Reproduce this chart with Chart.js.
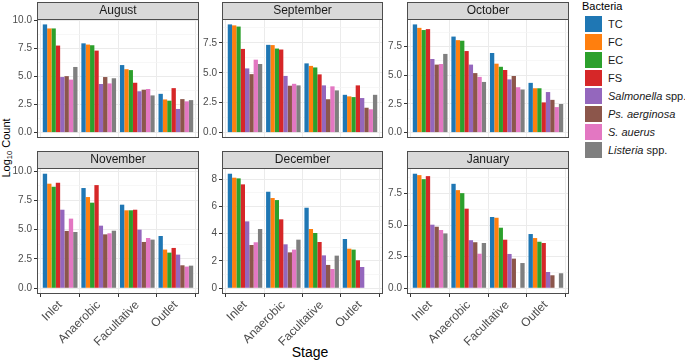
<!DOCTYPE html>
<html>
<head>
<meta charset="utf-8">
<script src="https://cdn.jsdelivr.net/npm/chart.js@4/dist/chart.umd.min.js"></script>
<style>
  html, body { margin:0; padding:0; background:#fff; }
  body { width:685px; height:361px; position:relative; overflow:hidden; font-family:"Liberation Sans", Arial, sans-serif; }
  canvas { position:absolute; }
  .ytitle { position:absolute; left:7px; top:148px; transform:translate(-50%,-50%) rotate(-90deg); font-size:11px; color:#000; white-space:nowrap; }
  .ytitle sub { font-size:7.5px; vertical-align:-2px; }
  .xtitle { position:absolute; left:310px; top:352px; transform:translate(-50%,-50%); font-size:14px; color:#000; white-space:nowrap; }
  .legtitle { position:absolute; left:582px; top:0px; font-size:11px; color:#000; }
  .key { position:absolute; left:585px; width:17px; height:16px; }
  .klab { position:absolute; left:608px; font-size:11px; color:#1a1a1a; white-space:nowrap; line-height:16px; }
</style>
</head>
<body>
<div class="ytitle">Log<sub>10</sub> Count</div>
<div class="xtitle">Stage</div>
<div class="legtitle">Bacteria</div>
<div id="legend"></div>
<script>
// ---------- data ----------
const stages = ['Inlet', 'Anaerobic', 'Facultative', 'Outlet'];
const bacteria = ['TC', 'FC', 'EC', 'FS', 'Salmonella spp.', 'Ps. aerginosa', 'S. auerus', 'Listeria spp.'];
const bacteriaItalic = ['', '', '', '', 'Salmonella', 'Ps. aerginosa', 'S. auerus', 'Listeria'];
const colors = ['#1f77b4', '#ff7f0e', '#2ca02c', '#d62728', '#9467bd', '#8c564b', '#e377c2', '#7f7f7f'];
const months = ['August', 'September', 'October', 'November', 'December', 'January'];

// rows = stages, columns = bacteria (TC, FC, EC, FS, Sal, Ps, S.a, List)
const august = [
  [9.66, 9.30, 9.30, 7.77, 4.96, 5.04, 4.73, 5.86],
  [7.97, 7.86, 7.80, 7.32, 4.34, 4.96, 4.39, 4.85],
  [6.03, 5.66, 5.58, 4.45, 3.69, 3.83, 3.89, 3.32],
  [3.46, 2.96, 2.85, 3.97, 2.11, 2.99, 2.79, 2.90]
];
const september = [
  [9.05, 8.97, 8.87, 7.00, 5.37, 4.89, 6.10, 5.74],
  [7.34, 7.32, 7.03, 6.95, 4.74, 3.92, 4.08, 3.95],
  [5.79, 5.58, 5.45, 4.87, 3.95, 2.79, 3.87, 3.53],
  [3.16, 3.03, 2.97, 3.95, 2.89, 2.08, 1.95, 3.16]
];
const october = [
  [9.42, 9.12, 8.93, 9.01, 6.41, 5.92, 5.97, 6.85],
  [8.36, 8.05, 8.00, 7.10, 5.92, 5.18, 4.85, 4.41],
  [6.93, 6.00, 5.73, 5.45, 4.63, 4.93, 3.95, 3.75],
  [4.33, 3.86, 3.86, 2.63, 3.53, 2.85, 2.22, 2.49]
];
const november = [
  [9.77, 8.92, 8.66, 9.00, 6.70, 4.89, 5.94, 4.80],
  [8.55, 7.78, 7.30, 8.80, 5.34, 4.60, 4.69, 4.91],
  [7.13, 6.65, 6.65, 6.70, 5.00, 3.95, 4.29, 4.15],
  [4.46, 3.30, 3.04, 3.44, 2.87, 1.96, 1.85, 1.93]
];
const december = [
  [8.39, 8.10, 8.05, 7.61, 4.90, 3.17, 3.37, 4.34],
  [7.07, 6.61, 6.46, 5.05, 3.22, 2.63, 2.83, 3.56],
  [5.90, 4.34, 4.05, 3.39, 2.41, 1.71, 1.41, 2.39],
  [3.61, 2.90, 2.83, 2.05, 1.56, null, null, null]
];
const january = [
  [9.08, 8.97, 8.65, 8.89, 5.04, 4.88, 4.62, 4.35],
  [8.28, 7.78, 7.54, 6.31, 3.81, 3.65, 2.74, 3.59],
  [5.65, 5.59, 4.80, 3.85, 2.72, 2.35, null, 2.00],
  [4.30, 3.98, 3.69, 3.59, 1.29, 1.03, null, 1.19]
];

// y tick labels per panel
const augustTicks = ['0.0', '2.5', '5.0', '7.5', '10.0'];
const septemberTicks = ['0.0', '2.5', '5.0', '7.5'];
const octoberTicks = ['0.0', '2.5', '5.0', '7.5'];
const novemberTicks = ['0.0', '2.5', '5.0', '7.5', '10.0'];
const decemberTicks = ['0', '2', '4', '6', '8'];
const januaryTicks = ['0.0', '2.5', '5.0', '7.5'];

// ---------- legend ----------
const legend = document.getElementById('legend');
bacteria.forEach((b, j) => {
  const top = 15.5 + j * 18.1;
  const k = document.createElement('div');
  k.className = 'key';
  k.style.top = top + 'px';
  k.style.background = colors[j];
  legend.appendChild(k);
  const l = document.createElement('div');
  l.className = 'klab';
  l.style.top = top + 'px';
  const it = bacteriaItalic[j];
  if (it) {
    const em = document.createElement('i');
    em.textContent = it;
    l.appendChild(em);
    const rest = b.slice(it.length);
    if (rest) l.appendChild(document.createTextNode(rest));
  } else {
    l.textContent = b;
  }
  legend.appendChild(l);
});

// ---------- panels ----------
const STRIP = 17;
const stripPlugin = {
  id: 'strip',
  afterDraw(chart, args, opts) {
    const { ctx, chartArea: a } = chart;
    ctx.save();
    ctx.fillStyle = '#d9d9d9';
    ctx.fillRect(a.left, a.top - STRIP, a.right - a.left, STRIP);
    ctx.strokeStyle = '#4d4d4d';
    ctx.lineWidth = 1;
    ctx.strokeRect(a.left + 0.5, a.top - STRIP + 0.5, a.right - a.left - 1, STRIP);
    ctx.strokeRect(a.left + 0.5, a.top + 0.5, a.right - a.left - 1, a.bottom - a.top - 1);
    ctx.fillStyle = '#1a1a1a';
    ctx.font = '12px "Liberation Sans", Arial, sans-serif';
    ctx.textAlign = 'center';
    ctx.textBaseline = 'middle';
    ctx.fillText(opts.text, (a.left + a.right) / 2, a.top - STRIP / 2 + 0.5);
    ctx.restore();
  }
};

function makePanel(month, data, tickLabels, col, row) {
  const plotLeft = [37, 222, 407][col];
  const plotRight = [199, 383, 569][col];
  const stripTop = [2, 151][row];
  const plotBottom = [145, 294][row];
  const isBottom = row === 1;
  const canvasH = isBottom ? 361 - stripTop : plotBottom - stripTop + 1;
  const axisH = canvasH - (plotBottom - stripTop);
  const canvas = document.createElement('canvas');
  canvas.width = plotRight - plotLeft + 37 + 1;
  canvas.height = canvasH;
  canvas.style.left = (plotLeft - 37) + 'px';
  canvas.style.top = stripTop + 'px';
  document.body.appendChild(canvas);

  const vals = data.flat().filter(v => v != null);
  const maxVal = Math.max(...vals);
  const yMax = maxVal * 1.05, yMin = -maxVal * 0.05;
  const majors = tickLabels.map(parseFloat);
  const step = majors[1] - majors[0];
  const minors = [];
  for (let i = -1; i < majors.length; i++) {
    const m = majors[0] + step * (i + 0.5);
    if (m > yMin && m < yMax) minors.push(m);
  }
  const allTicks = majors.concat(minors).sort((a, b) => a - b);
  const isMajor = v => majors.some(m => Math.abs(m - v) < 1e-6);
  const labelFor = v => { const i = majors.findIndex(m => Math.abs(m - v) < 1e-6); return i >= 0 ? tickLabels[i] : ''; };

  const datasets = bacteria.map((b, j) => ({
    label: b,
    backgroundColor: colors[j],
    borderWidth: 0,
    categoryPercentage: 0.9,
    barPercentage: 1.0,
    data: stages.map((s, i) => ({ x: i + 1, y: data[i][j] }))
  }));

  new Chart(canvas, {
    type: 'bar',
    data: { datasets },
    options: {
      responsive: false,
      animation: false,
      events: [],
      layout: { padding: { top: STRIP, right: 1, left: 0, bottom: 0 } },
      plugins: { legend: { display: false }, tooltip: { enabled: false }, strip: { text: month } },
      scales: {
        x: {
          type: 'linear',
          min: 0.4, max: 4.6,
          offset: false,
          afterBuildTicks: s => { s.ticks = stages.map((_, i) => ({ value: i + 1 })); },
          afterFit: s => { s.height = axisH; },
          ticks: {
            display: isBottom,
            autoSkip: false,
            minRotation: 45, maxRotation: 45,
            padding: 1,
            color: '#4d4d4d',
            font: { family: '"Liberation Sans", Arial, sans-serif', size: 12 },
            callback: v => stages[Math.round(v) - 1]
          },
          grid: { color: '#ebebeb', lineWidth: 1, drawTicks: isBottom, tickLength: 3, tickColor: '#333333' },
          border: { display: false }
        },
        y: {
          min: yMin, max: yMax,
          afterBuildTicks: s => { s.ticks = allTicks.map(v => ({ value: v })); },
          afterFit: s => { s.width = 37; },
          ticks: {
            autoSkip: false,
            padding: 2,
            color: '#4d4d4d',
            font: { family: '"Liberation Sans", Arial, sans-serif', size: 10 },
            callback: v => labelFor(v)
          },
          grid: {
            color: c => isMajor(c.tick.value) ? '#ebebeb' : '#f4f4f4',
            lineWidth: c => isMajor(c.tick.value) ? 1 : 0.7,
            tickColor: c => isMajor(c.tick.value) ? '#333333' : 'rgba(0,0,0,0)',
            tickLength: 3
          },
          border: { display: false }
        }
      }
    },
    plugins: [stripPlugin]
  });
}

makePanel(months[0], august, augustTicks, 0, 0);
makePanel(months[1], september, septemberTicks, 1, 0);
makePanel(months[2], october, octoberTicks, 2, 0);
makePanel(months[3], november, novemberTicks, 0, 1);
makePanel(months[4], december, decemberTicks, 1, 1);
makePanel(months[5], january, januaryTicks, 2, 1);
</script>
</body>
</html>
